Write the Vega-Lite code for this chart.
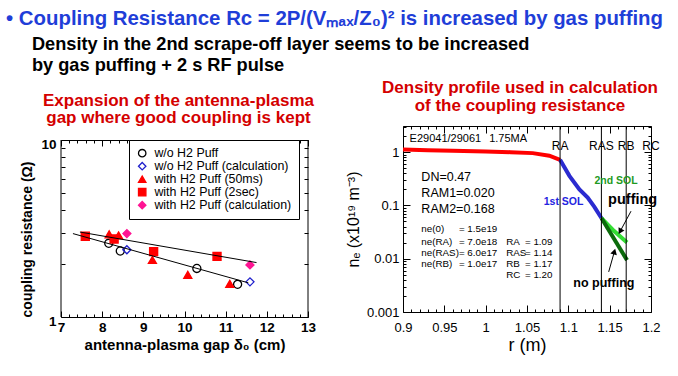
{
  "$schema": "https://vega.github.io/schema/vega-lite/v6.json",
  "padding": {"left": 5, "top": 9, "right": 5, "bottom": 5},
  "background": "white",
  "title": {
    "text": "• Coupling Resistance Rc = 2P/(Vₘₐₓ/Z₀)² is increased by gas puffing",
    "subtitle": ["⠀⠀Density in the 2nd scrape-off layer seems to be increased", "⠀⠀by gas puffing + 2 s RF pulse"],
    "anchor": "start",
    "dx": -15,
    "font": "Liberation Sans",
    "fontSize": 20.4,
    "fontWeight": "bold",
    "color": "#1f3ed8",
    "subtitleFont": "Liberation Sans",
    "subtitleFontSize": 18.2,
    "subtitleFontWeight": "bold",
    "subtitleColor": "black",
    "subtitleLineHeight": 21,
    "subtitlePadding": 6,
    "offset": 4.5
  },
  "datasets": {
    "gap": [
      {"series": "w/o H2 Puff", "gap": 8.16, "rc": 2.61},
      {"series": "w/o H2 Puff", "gap": 8.44, "rc": 2.36},
      {"series": "w/o H2 Puff", "gap": 10.30, "rc": 1.88},
      {"series": "w/o H2 Puff", "gap": 11.29, "rc": 1.53},
      {"series": "w/o H2 Puff (calculation)", "gap": 8.60, "rc": 2.40},
      {"series": "w/o H2 Puff (calculation)", "gap": 11.59, "rc": 1.58},
      {"series": "with H2 Puff (50ms)", "gap": 8.17, "rc": 2.93},
      {"series": "with H2 Puff (50ms)", "gap": 8.40, "rc": 2.89},
      {"series": "with H2 Puff (50ms)", "gap": 9.22, "rc": 2.10},
      {"series": "with H2 Puff (50ms)", "gap": 10.08, "rc": 1.73},
      {"series": "with H2 Puff (50ms)", "gap": 11.10, "rc": 1.54},
      {"series": "with H2 Puff (2sec)", "gap": 7.59, "rc": 2.86},
      {"series": "with H2 Puff (2sec)", "gap": 8.29, "rc": 2.76},
      {"series": "with H2 Puff (2sec)", "gap": 9.25, "rc": 2.34},
      {"series": "with H2 Puff (2sec)", "gap": 10.79, "rc": 2.20},
      {"series": "with H2 Puff (calculation)", "gap": 8.60, "rc": 2.96},
      {"series": "with H2 Puff (calculation)", "gap": 11.59, "rc": 1.97}
    ],
    "fits": [
      {"fit": "w/o puff", "gap": 7.29, "rc": 2.96},
      {"fit": "w/o puff", "gap": 11.55, "rc": 1.56},
      {"fit": "with puff", "gap": 7.46, "rc": 3.02},
      {"fit": "with puff", "gap": 11.75, "rc": 2.03}
    ],
    "profile": [
      {"seg": "core", "r": 0.90, "ne": 1.12},
      {"seg": "core", "r": 0.93, "ne": 1.09},
      {"seg": "core", "r": 0.96, "ne": 1.06},
      {"seg": "core", "r": 1.00, "ne": 1.03},
      {"seg": "core", "r": 1.03, "ne": 1.00},
      {"seg": "core", "r": 1.057, "ne": 0.96},
      {"seg": "core", "r": 1.077, "ne": 0.86},
      {"seg": "core", "r": 1.09, "ne": 0.72},
      {"seg": "1st SOL", "r": 1.09, "ne": 0.72},
      {"seg": "1st SOL", "r": 1.1013, "ne": 0.36},
      {"seg": "1st SOL", "r": 1.1134, "ne": 0.20},
      {"seg": "1st SOL", "r": 1.1234, "ne": 0.14},
      {"seg": "1st SOL", "r": 1.1315, "ne": 0.094},
      {"seg": "1st SOL", "r": 1.14, "ne": 0.058},
      {"seg": "2nd SOL puffing", "r": 1.14, "ne": 0.058},
      {"seg": "2nd SOL puffing", "r": 1.1537, "ne": 0.035},
      {"seg": "2nd SOL puffing", "r": 1.171, "ne": 0.0201},
      {"seg": "2nd SOL no puffing", "r": 1.14, "ne": 0.058},
      {"seg": "2nd SOL no puffing", "r": 1.171, "ne": 0.0094}
    ],
    "bounds": [
      {"name": "RA", "r": 1.09},
      {"name": "RAS", "r": 1.14},
      {"name": "RB", "r": 1.17},
      {"name": "RC", "r": 1.2}
    ],
    "notes": [
      {"kind": "header", "r": 0.908, "ne": 1.79, "text": "E29041/29061⠀1.75MA"},
      {"kind": "param", "r": 0.9222, "ne": 0.335, "text": "DN=0.47"},
      {"kind": "param", "r": 0.9222, "ne": 0.174, "text": "RAM1=0.020"},
      {"kind": "param", "r": 0.9222, "ne": 0.0866, "text": "RAM2=0.168"},
      {"kind": "table", "r": 0.9222, "ne": 0.0361, "text": "ne(0)"},
      {"kind": "table", "r": 0.9222, "ne": 0.0207, "text": "ne(RA)"},
      {"kind": "table", "r": 0.9222, "ne": 0.01266, "text": "ne(RAS)"},
      {"kind": "table", "r": 0.9222, "ne": 0.00783, "text": "ne(RB)"},
      {"kind": "table", "r": 0.9676, "ne": 0.0361, "text": "= 1.5e19"},
      {"kind": "table", "r": 0.9676, "ne": 0.0207, "text": "= 7.0e18"},
      {"kind": "table", "r": 0.9676, "ne": 0.01266, "text": "= 6.0e17"},
      {"kind": "table", "r": 0.9676, "ne": 0.00783, "text": "= 1.0e17"},
      {"kind": "table", "r": 1.0249, "ne": 0.0207, "text": "RA"},
      {"kind": "table", "r": 1.0249, "ne": 0.01266, "text": "RAS"},
      {"kind": "table", "r": 1.0249, "ne": 0.00783, "text": "RB"},
      {"kind": "table", "r": 1.0249, "ne": 0.00491, "text": "RC"},
      {"kind": "table", "r": 1.0475, "ne": 0.0207, "text": "= 1.09"},
      {"kind": "table", "r": 1.0475, "ne": 0.01266, "text": "= 1.14"},
      {"kind": "table", "r": 1.0475, "ne": 0.00783, "text": "= 1.17"},
      {"kind": "table", "r": 1.0475, "ne": 0.00491, "text": "= 1.20"},
      {"kind": "sol1", "r": 1.0943, "ne": 0.1155, "text": "1st SOL"},
      {"kind": "sol2", "r": 1.1577, "ne": 0.289, "text": "2nd SOL"},
      {"kind": "puff", "r": 1.1778, "ne": 0.1244, "text": "puffing"},
      {"kind": "nopuff", "r": 1.143, "ne": 0.00356, "text": "no puffing"}
    ],
    "arrows": [
      {"arrow": "puffing", "r1": 1.1758, "ne1": 0.078, "r2": 1.1626, "ne2": 0.0325},
      {"arrow": "no puffing", "r1": 1.1488, "ne1": 0.00566, "r2": 1.1557, "ne2": 0.0136}
    ]
  },
  "spacing": 28,
  "hconcat": [
    {
      "width": 247,
      "height": 191,
      "view": {"stroke": null},
      "title": {
        "text": ["Expansion of the antenna-plasma", "gap where good coupling is kept"],
        "anchor": "middle",
        "frame": "group",
        "font": "Liberation Sans",
        "fontSize": 17,
        "fontWeight": "bold",
        "color": "#d40000",
        "lineHeight": 17.7,
        "dx": -6,
        "offset": -1.5
      },
      "layer": [
        {
          "data": {"name": "gap"},
          "mark": {"type": "point", "size": 65, "strokeWidth": 1.3, "opacity": 1, "fillOpacity": 1},
          "encoding": {
            "x": {
              "field": "gap", "type": "quantitative",
              "scale": {"domain": [7, 13], "nice": false, "zero": false},
              "axis": {
                "orient": "bottom",
                "values": [7,7.2,7.4,7.6,7.8,8,8.2,8.4,8.6,8.8,9,9.2,9.4,9.6,9.8,10,10.2,10.4,10.6,10.8,11,11.2,11.4,11.6,11.8,12,12.2,12.4,12.6,12.8,13],
                "labelExpr": "abs(datum.value - round(datum.value)) < 0.001 ? toString(round(datum.value)) : ''",
                "tickSize": {"condition": {"test": "abs(datum.value - round(datum.value)) < 0.001", "value": -6}, "value": -3},
                "labelFont": "Liberation Sans", "labelFontWeight": "bold", "labelFontSize": 13.5,
                "labelPadding": 9.5, "labelFlush": false, "labelOverlap": false,
                "domain": true, "domainColor": "black", "domainWidth": 1,
                "title": "antenna-plasma gap δ₀ (cm)",
                "titleFont": "Liberation Sans", "titleFontWeight": "bold", "titleFontSize": 15,
                "titlePadding": 0
              }
            },
            "y": {
              "field": "rc", "type": "quantitative",
              "scale": {"type": "log", "domain": [1, 12.0], "nice": false},
              "axis": {
                "orient": "left",
                "values": [1,2,3,4,5,6,7,8,9,10],
                "labelExpr": "datum.value == 1 || datum.value == 10 ? toString(datum.value) : ''",
                "tickSize": {"condition": {"test": "datum.value == 1 || datum.value == 10", "value": -6}, "value": -4},
                "labelFont": "Liberation Sans", "labelFontWeight": "bold", "labelFontSize": 13.5,
                "labelPadding": 11, "labelOffset": 4, "labelFlush": false, "labelOverlap": false,
                "title": "coupling resistance (Ω)",
                "titleFont": "Liberation Sans", "titleFontWeight": "bold", "titleFontSize": 14,
                "titlePadding": 6, "titleY": 113
              }
            },
            "shape": {
              "field": "series", "type": "nominal",
              "scale": {"domain": ["w/o H2 Puff", "w/o H2 Puff (calculation)", "with H2 Puff (50ms)", "with H2 Puff (2sec)", "with H2 Puff (calculation)"],
                        "range": ["circle", "diamond", "triangle-up", "square", "diamond"]},
              "legend": {
                "orient": "none", "legendX": 68, "legendY": 14,
                "title": null,
                "strokeColor": "black", "fillColor": "white",
                "padding": 7, "rowPadding": -2.6,
                "labelFont": "Liberation Sans", "labelFontSize": 12.4,
                "labelOffset": 6, "symbolSize": 55, "symbolStrokeWidth": 1.3,
                "labelLimit": 220,
                "encode": {"labels": {"update": {"fill": {"signal": "datum.label == 'w/o H2 Puff' ? 'black' : datum.label == 'w/o H2 Puff (calculation)' ? '#1f1fcc' : datum.label == 'with H2 Puff (calculation)' ? '#ff1493' : '#ff0000'"}}}}
              }
            },
            "fill": {
              "field": "series", "type": "nominal",
              "scale": {"domain": ["w/o H2 Puff", "w/o H2 Puff (calculation)", "with H2 Puff (50ms)", "with H2 Puff (2sec)", "with H2 Puff (calculation)"],
                        "range": ["transparent", "transparent", "#ff0000", "#ff0000", "#ff1493"]}
            },
            "stroke": {
              "field": "series", "type": "nominal",
              "scale": {"domain": ["w/o H2 Puff", "w/o H2 Puff (calculation)", "with H2 Puff (50ms)", "with H2 Puff (2sec)", "with H2 Puff (calculation)"],
                        "range": ["black", "#1f1fcc", "#ff0000", "#ff0000", "#ff1493"]}
            }
          }
        },
        {
          "data": {"name": "fits"},
          "mark": {"type": "line", "color": "black", "strokeWidth": 1},
          "encoding": {
            "x": {
              "field": "gap", "type": "quantitative",
              "scale": {"domain": [7, 13], "nice": false, "zero": false},
              "axis": {
                "orient": "top",
                "offset": -14,
                "values": [7,7.2,7.4,7.6,7.8,8,8.2,8.4,8.6,8.8,9,9.2,9.4,9.6,9.8,10,10.2,10.4,10.6,10.8,11,11.2,11.4,11.6,11.8,12,12.2,12.4,12.6,12.8,13],
                "labels": false, "title": null,
                "domain": true, "domainColor": "black", "domainWidth": 1,
                "tickSize": {"condition": {"test": "abs(datum.value - round(datum.value)) < 0.001", "value": -6}, "value": -3}
              }
            },
            "y": {
              "field": "rc", "type": "quantitative",
              "scale": {"type": "log", "domain": [1, 12.0], "nice": false},
              "axis": {
                "orient": "right",
                "values": [1,2,3,4,5,6,7,8,9,10],
                "labels": false, "title": null,
                "tickSize": -4
              }
            },
            "detail": {"field": "fit", "type": "nominal"}
          }
        },
        {
          "data": {"values": [{}]},
          "mark": {"type": "rule", "color": "black", "strokeWidth": 1},
          "encoding": {
            "x": {"datum": 7, "type": "quantitative", "scale": {"domain": [7, 13], "nice": false, "zero": false}, "axis": null},
            "y": {"datum": 1, "type": "quantitative", "scale": {"type": "log", "domain": [1, 12.0], "nice": false}, "axis": null},
            "y2": {"datum": 10}
          }
        },
        {
          "data": {"values": [{}]},
          "mark": {"type": "rule", "color": "black", "strokeWidth": 1},
          "encoding": {
            "x": {"datum": 13, "type": "quantitative", "scale": {"domain": [7, 13], "nice": false, "zero": false}, "axis": null},
            "y": {"datum": 1, "type": "quantitative", "scale": {"type": "log", "domain": [1, 12.0], "nice": false}, "axis": null},
            "y2": {"datum": 10}
          }
        }
      ],
      "resolve": {"axis": {"x": "independent", "y": "independent"}}
    },
    {
      "width": 248,
      "height": 186,
      "title": {
        "text": ["Density profile used in calculation", "of the coupling resistance"],
        "anchor": "middle",
        "frame": "group",
        "font": "Liberation Sans",
        "fontSize": 17,
        "fontWeight": "bold",
        "color": "#d40000",
        "lineHeight": 17.7,
        "dx": -7,
        "offset": 6
      },
      "layer": [
        {
          "data": {"name": "profile"},
          "mark": {"type": "line", "strokeWidth": 4, "strokeCap": "butt"},
          "encoding": {
            "x": {
              "field": "r", "type": "quantitative",
              "scale": {"domain": [0.9, 1.2], "nice": false, "zero": false},
              "axis": {
                "orient": "bottom",
                "values": [0.9,0.91,0.92,0.93,0.94,0.95,0.96,0.97,0.98,0.99,1,1.01,1.02,1.03,1.04,1.05,1.06,1.07,1.08,1.09,1.1,1.11,1.12,1.13,1.14,1.15,1.16,1.17,1.18,1.19,1.2],
                "labelExpr": "abs(datum.value*20 - round(datum.value*20)) < 0.001 ? toString(datum.value) : ''",
                "tickSize": {"condition": {"test": "abs(datum.value*20 - round(datum.value*20)) < 0.001", "value": -7}, "value": -3},
                "labelFont": "Liberation Sans", "labelFontSize": 13,
                "labelPadding": 16.5, "labelFlush": false, "labelOverlap": false,
                "title": "r (m)",
                "titleFont": "Liberation Sans", "titleFontWeight": "normal", "titleFontSize": 18,
                "titlePadding": -2
              }
            },
            "y": {
              "field": "ne", "type": "quantitative",
              "scale": {"type": "log", "domain": [0.001, 3.1], "nice": false},
              "axis": {
                "orient": "left",
                "values": [0.001,0.002,0.003,0.004,0.005,0.006,0.007,0.008,0.009,0.01,0.02,0.03,0.04,0.05,0.06,0.07,0.08,0.09,0.1,0.2,0.3,0.4,0.5,0.6,0.7,0.8,0.9,1,2,3],
                "labelExpr": "abs(log(datum.value)/LN10 - round(log(datum.value)/LN10)) < 0.001 ? toString(datum.value) : ''",
                "tickSize": {"condition": {"test": "abs(log(datum.value)/LN10 - round(log(datum.value)/LN10)) < 0.001", "value": -7}, "value": -3},
                "labelFont": "Liberation Sans", "labelFontSize": 13,
                "labelPadding": 11, "labelFlush": false, "labelOverlap": false,
                "title": "nₑ (x10¹⁹ m⁻³)",
                "titleFont": "Liberation Sans", "titleFontWeight": "normal", "titleFontSize": 16,
                "titlePadding": 5
              }
            },
            "color": {
              "field": "seg", "type": "nominal",
              "scale": {"domain": ["core", "1st SOL", "2nd SOL puffing", "2nd SOL no puffing"], "range": ["#ff0000", "#2b2bd0", "#33dd33", "#0b6b0b"]},
              "legend": null
            }
          }
        },
        {
          "data": {"name": "bounds"},
          "transform": [{"filter": "datum.name != 'RC'"}],
          "mark": {"type": "rule", "color": "black", "strokeWidth": 1},
          "encoding": {
            "x": {
              "field": "r", "type": "quantitative",
              "scale": {"domain": [0.9, 1.2], "nice": false, "zero": false},
              "axis": {
                "orient": "top",
                "values": [0.9,0.91,0.92,0.93,0.94,0.95,0.96,0.97,0.98,0.99,1,1.01,1.02,1.03,1.04,1.05,1.06,1.07,1.08,1.09,1.1,1.11,1.12,1.13,1.14,1.15,1.16,1.17,1.18,1.19,1.2],
                "labels": false, "title": null,
                "tickSize": {"condition": {"test": "abs(datum.value*20 - round(datum.value*20)) < 0.001", "value": -7}, "value": -3}
              }
            }
          }
        },
        {
          "data": {"name": "bounds"},
          "mark": {"type": "text", "font": "Liberation Sans", "fontSize": 12, "color": "black", "align": "center", "baseline": "middle"},
          "encoding": {
            "x": {"field": "r", "type": "quantitative", "scale": {"domain": [0.9, 1.2], "nice": false, "zero": false}, "axis": null},
            "y": {"datum": 1.33, "type": "quantitative", "scale": {"type": "log", "domain": [0.001, 3.1], "nice": false}, "axis": null},
            "text": {"field": "name"}
          }
        },
        {
          "data": {"name": "notes"},
          "transform": [{"filter": "datum.kind == 'param'"}],
          "mark": {"type": "text", "font": "Liberation Sans", "fontSize": 12.5, "color": "black", "align": "left", "baseline": "middle"},
          "encoding": {
            "x": {"field": "r", "type": "quantitative", "scale": {"domain": [0.9, 1.2], "nice": false, "zero": false}, "axis": null},
            "y": {
              "field": "ne", "type": "quantitative",
              "scale": {"type": "log", "domain": [0.001, 3.1], "nice": false},
              "axis": {
                "orient": "right",
                "values": [0.001,0.002,0.003,0.004,0.005,0.006,0.007,0.008,0.009,0.01,0.02,0.03,0.04,0.05,0.06,0.07,0.08,0.09,0.1,0.2,0.3,0.4,0.5,0.6,0.7,0.8,0.9,1,2,3],
                "labels": false, "title": null,
                "tickSize": {"condition": {"test": "abs(log(datum.value)/LN10 - round(log(datum.value)/LN10)) < 0.001", "value": -7}, "value": -3}
              }
            },
            "text": {"field": "text"}
          }
        },
        {
          "data": {"name": "notes"},
          "transform": [{"filter": "datum.kind == 'header'"}],
          "mark": {"type": "text", "font": "Liberation Sans", "fontSize": 11, "color": "black", "align": "left", "baseline": "middle"},
          "encoding": {
            "x": {"field": "r", "type": "quantitative", "scale": {"domain": [0.9, 1.2], "nice": false, "zero": false}, "axis": null},
            "y": {"field": "ne", "type": "quantitative", "scale": {"type": "log", "domain": [0.001, 3.1], "nice": false}, "axis": null},
            "text": {"field": "text"}
          }
        },
        {
          "data": {"name": "notes"},
          "transform": [{"filter": "datum.kind == 'table'"}],
          "mark": {"type": "text", "font": "Liberation Sans", "fontSize": 9.8, "color": "black", "align": "left", "baseline": "middle"},
          "encoding": {
            "x": {"field": "r", "type": "quantitative", "scale": {"domain": [0.9, 1.2], "nice": false, "zero": false}, "axis": null},
            "y": {"field": "ne", "type": "quantitative", "scale": {"type": "log", "domain": [0.001, 3.1], "nice": false}, "axis": null},
            "text": {"field": "text"}
          }
        },
        {
          "data": {"name": "notes"},
          "transform": [{"filter": "datum.kind == 'sol1'"}],
          "mark": {"type": "text", "font": "Liberation Sans", "fontSize": 10.5, "fontWeight": "bold", "color": "#2424e0", "align": "center", "baseline": "middle"},
          "encoding": {
            "x": {"field": "r", "type": "quantitative", "scale": {"domain": [0.9, 1.2], "nice": false, "zero": false}, "axis": null},
            "y": {"field": "ne", "type": "quantitative", "scale": {"type": "log", "domain": [0.001, 3.1], "nice": false}, "axis": null},
            "text": {"field": "text"}
          }
        },
        {
          "data": {"name": "notes"},
          "transform": [{"filter": "datum.kind == 'sol2'"}],
          "mark": {"type": "text", "font": "Liberation Sans", "fontSize": 10.5, "fontWeight": "bold", "color": "#1f9a1f", "align": "center", "baseline": "middle"},
          "encoding": {
            "x": {"field": "r", "type": "quantitative", "scale": {"domain": [0.9, 1.2], "nice": false, "zero": false}, "axis": null},
            "y": {"field": "ne", "type": "quantitative", "scale": {"type": "log", "domain": [0.001, 3.1], "nice": false}, "axis": null},
            "text": {"field": "text"}
          }
        },
        {
          "data": {"name": "notes"},
          "transform": [{"filter": "datum.kind == 'puff'"}],
          "mark": {"type": "text", "font": "Liberation Sans", "fontSize": 14.5, "fontWeight": "bold", "color": "black", "align": "center", "baseline": "middle"},
          "encoding": {
            "x": {"field": "r", "type": "quantitative", "scale": {"domain": [0.9, 1.2], "nice": false, "zero": false}, "axis": null},
            "y": {"field": "ne", "type": "quantitative", "scale": {"type": "log", "domain": [0.001, 3.1], "nice": false}, "axis": null},
            "text": {"field": "text"}
          }
        },
        {
          "data": {"name": "notes"},
          "transform": [{"filter": "datum.kind == 'nopuff'"}],
          "mark": {"type": "text", "font": "Liberation Sans", "fontSize": 12.5, "fontWeight": "bold", "color": "black", "align": "center", "baseline": "middle"},
          "encoding": {
            "x": {"field": "r", "type": "quantitative", "scale": {"domain": [0.9, 1.2], "nice": false, "zero": false}, "axis": null},
            "y": {"field": "ne", "type": "quantitative", "scale": {"type": "log", "domain": [0.001, 3.1], "nice": false}, "axis": null},
            "text": {"field": "text"}
          }
        },
        {
          "data": {"name": "arrows"},
          "mark": {"type": "rule", "color": "black", "strokeWidth": 1},
          "encoding": {
            "x": {"field": "r1", "type": "quantitative", "scale": {"domain": [0.9, 1.2], "nice": false, "zero": false}, "axis": null},
            "y": {"field": "ne1", "type": "quantitative", "scale": {"type": "log", "domain": [0.001, 3.1], "nice": false}, "axis": null},
            "x2": {"field": "r2"},
            "y2": {"field": "ne2"}
          }
        },
        {
          "data": {"name": "arrows"},
          "transform": [{"filter": "datum.arrow == 'puffing'"}],
          "mark": {"type": "point", "shape": "triangle-up", "filled": true, "color": "black", "size": 45, "angle": 209, "opacity": 1},
          "encoding": {
            "x": {"field": "r2", "type": "quantitative", "scale": {"domain": [0.9, 1.2], "nice": false, "zero": false}, "axis": null},
            "y": {"field": "ne2", "type": "quantitative", "scale": {"type": "log", "domain": [0.001, 3.1], "nice": false}, "axis": null}
          }
        },
        {
          "data": {"name": "arrows"},
          "transform": [{"filter": "datum.arrow == 'no puffing'"}],
          "mark": {"type": "point", "shape": "triangle-up", "filled": true, "color": "black", "size": 45, "angle": 16, "opacity": 1},
          "encoding": {
            "x": {"field": "r2", "type": "quantitative", "scale": {"domain": [0.9, 1.2], "nice": false, "zero": false}, "axis": null},
            "y": {"field": "ne2", "type": "quantitative", "scale": {"type": "log", "domain": [0.001, 3.1], "nice": false}, "axis": null}
          }
        }
      ],
      "resolve": {"axis": {"x": "independent", "y": "independent"}}
    }
  ],
  "config": {
    "view": {"stroke": "black", "strokeWidth": 1},
    "font": "Liberation Sans",
    "title": {"subtitleLineHeight": 21},
    "axis": {"grid": false, "domain": false, "tickColor": "black", "labelColor": "black", "titleColor": "black", "tickWidth": 1}
  }
}
